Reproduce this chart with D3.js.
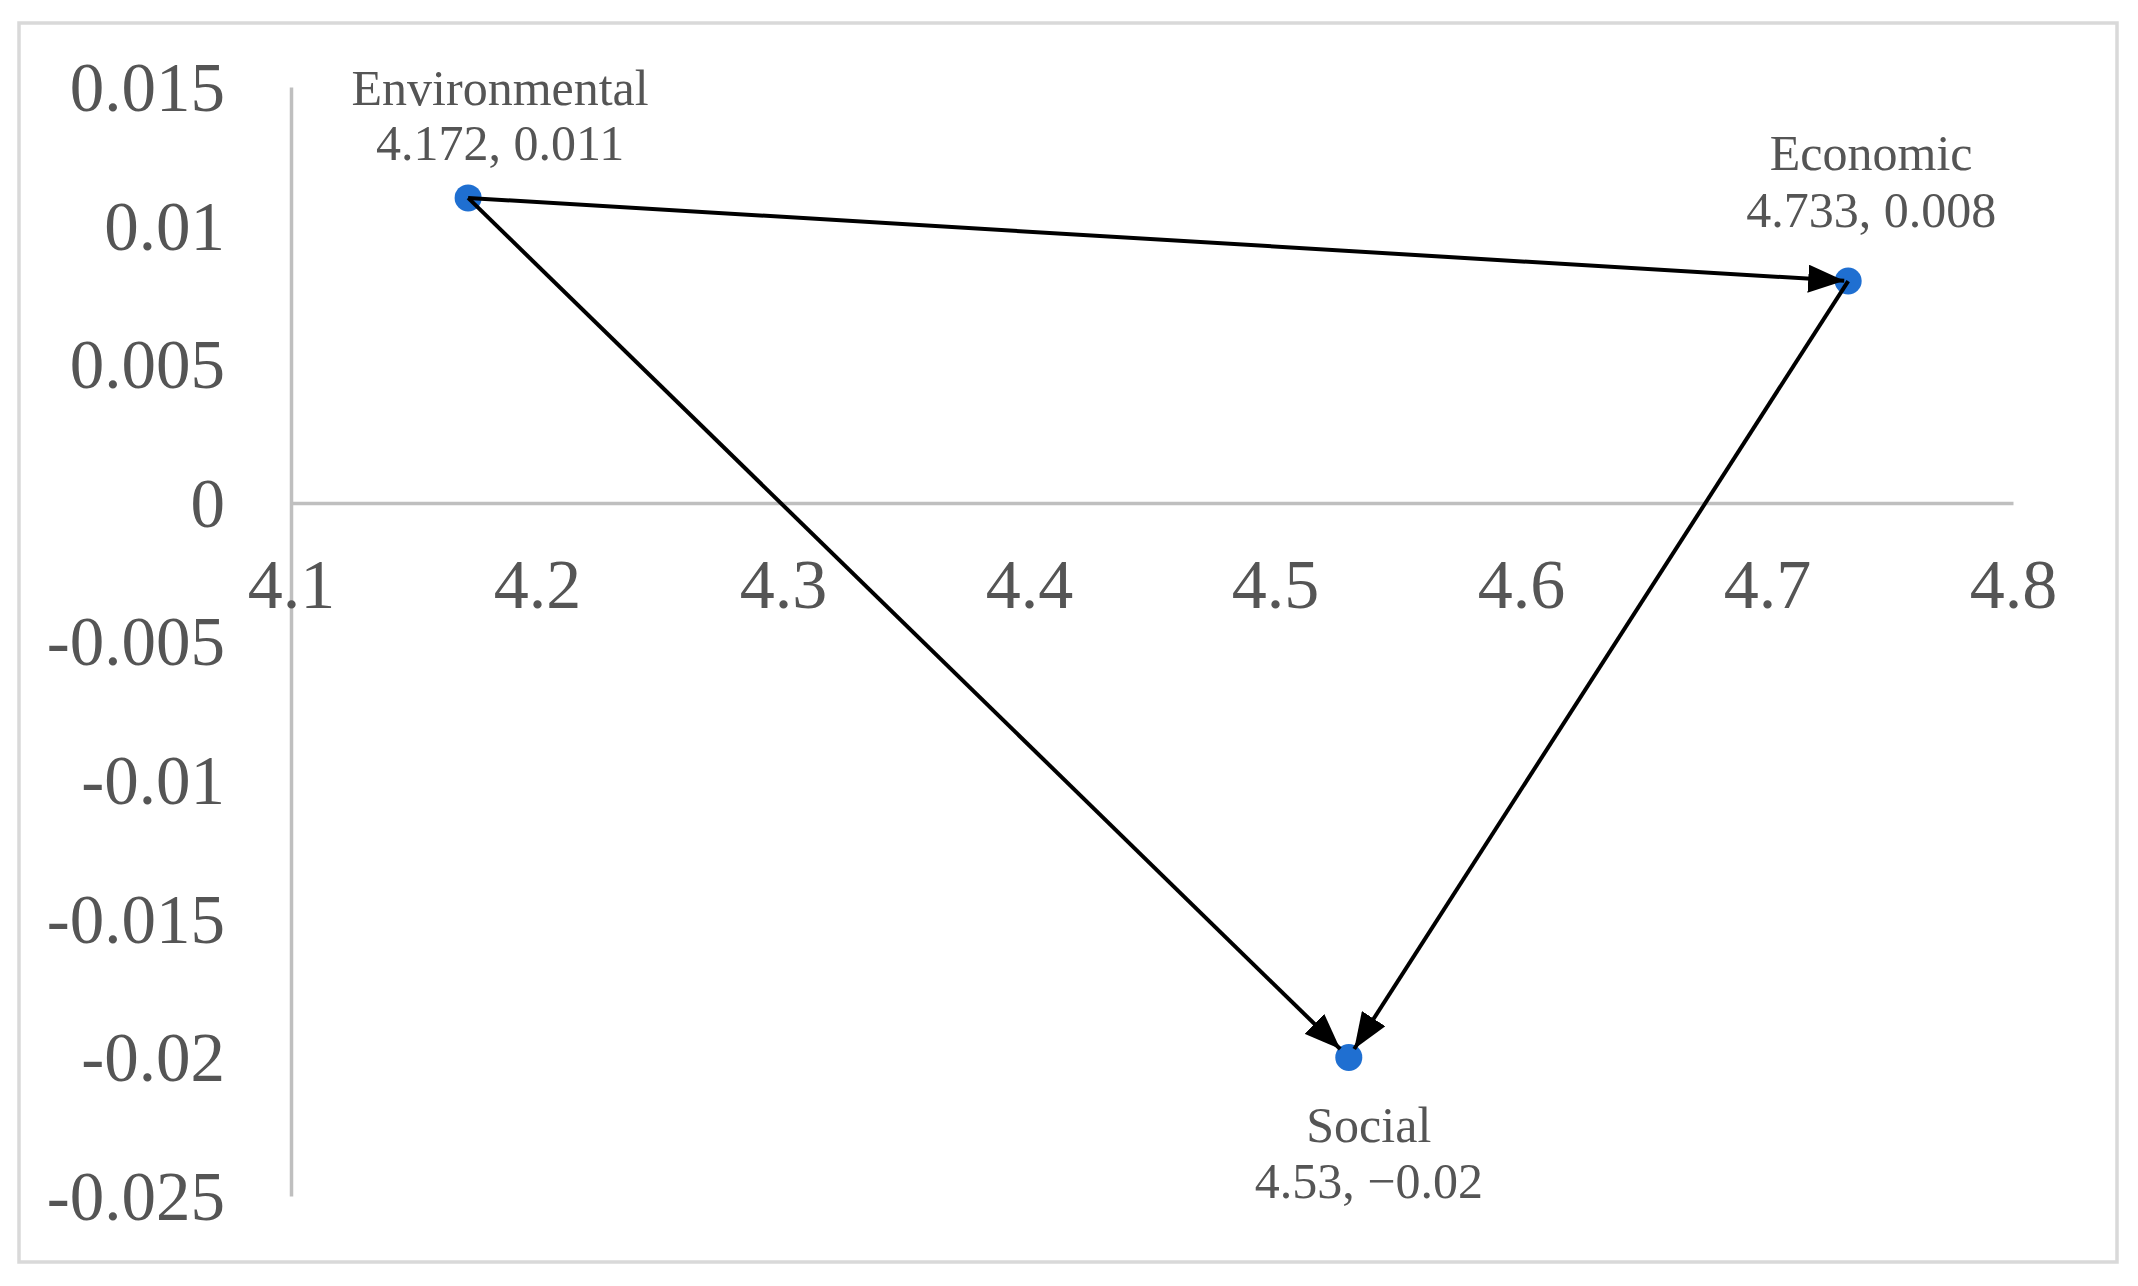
<!DOCTYPE html>
<html>
<head>
<meta charset="utf-8">
<script src="https://cdn.jsdelivr.net/npm/d3@7"></script>
<style>
  html, body { margin: 0; padding: 0; background: #ffffff; }
  svg { display: block; }
  text { font-family: "Liberation Serif", "DejaVu Serif", serif; }
</style>
</head>
<body>
<svg id="chart" width="2138" height="1286"></svg>
<script>
// ---- data ----
const names = ["Environmental", "Economic", "Social"];
const xValues = [4.172, 4.733, 4.53];
const yValues = [0.011, 0.008, -0.02];
const valueLabels = ["4.172, 0.011", "4.733, 0.008", "4.53, \u22120.02"];
const links = [[0, 1], [0, 2], [1, 2]];
const xTicks = [4.1, 4.2, 4.3, 4.4, 4.5, 4.6, 4.7, 4.8];
const xTickLabels = ["4.1", "4.2", "4.3", "4.4", "4.5", "4.6", "4.7", "4.8"];
const yTicks = [0.015, 0.01, 0.005, 0, -0.005, -0.01, -0.015, -0.02, -0.025];
const yTickLabels = ["0.015", "0.01", "0.005", "0", "-0.005", "-0.01", "-0.015", "-0.02", "-0.025"];

// ---- layout ----
const svg = d3.select("#chart");
const textColor = "#555555";
const axisColor = "#bfbfbf";
const dotColor = "#1f6fd1";

svg.append("rect")
  .attr("x", 19).attr("y", 23).attr("width", 2098).attr("height", 1239)
  .attr("fill", "#ffffff").attr("stroke", "#d9d9d9").attr("stroke-width", 3.5);

const x = d3.scaleLinear().domain([4.1, 4.8]).range([291, 2013]);
const y = d3.scaleLinear().domain([-0.025, 0.015]).range([1196, 87]);

// y axis
const yAxis = svg.append("g")
  .attr("transform", `translate(${x(4.1)},0)`)
  .call(d3.axisLeft(y).tickValues(yTicks).tickSize(0).tickSizeOuter(0).tickPadding(66)
    .tickFormat((d, i) => yTickLabels[i]));
yAxis.select(".domain").attr("stroke", axisColor).attr("stroke-width", 3.5);
yAxis.selectAll("text")
  .attr("fill", textColor).attr("font-size", 69)
  .attr("font-family", "Liberation Serif, serif")
  .attr("dy", "0.34em");

// x axis (at y = 0)
const xAxis = svg.append("g")
  .attr("transform", `translate(0,${y(0)})`)
  .call(d3.axisBottom(x).tickValues(xTicks).tickSize(0).tickSizeOuter(0)
    .tickFormat((d, i) => xTickLabels[i]));
xAxis.select(".domain").attr("stroke", axisColor).attr("stroke-width", 3.5);
xAxis.selectAll("text")
  .attr("fill", textColor).attr("font-size", 70)
  .attr("font-family", "Liberation Serif, serif")
  .attr("y", 105).attr("dy", 0);

// points
svg.append("g").selectAll("circle")
  .data(names)
  .join("circle")
  .attr("cx", (d, i) => x(xValues[i]))
  .attr("cy", (d, i) => y(yValues[i]))
  .attr("r", 13.5)
  .attr("fill", dotColor);

// arrow marker
svg.append("defs").append("marker")
  .attr("id", "arrow")
  .attr("markerUnits", "userSpaceOnUse")
  .attr("viewBox", "0 0 36 28")
  .attr("markerWidth", 36).attr("markerHeight", 28)
  .attr("refX", 36).attr("refY", 14)
  .attr("orient", "auto")
  .append("path")
  .attr("d", "M0,0 L36,14 L0,28 Z")
  .attr("fill", "#000000");

// arrows
const shorten = [4, 12, 10];
svg.append("g").selectAll("line")
  .data(links)
  .join("line")
  .each(function (l, k) {
    const x1 = x(xValues[l[0]]), y1 = y(yValues[l[0]]);
    const x2 = x(xValues[l[1]]), y2 = y(yValues[l[1]]);
    const len = Math.hypot(x2 - x1, y2 - y1);
    const s = shorten[k];
    d3.select(this)
      .attr("x1", x1).attr("y1", y1)
      .attr("x2", x2 - (x2 - x1) / len * s)
      .attr("y2", y2 - (y2 - y1) / len * s);
  })
  .attr("stroke", "#000000")
  .attr("stroke-width", 4)
  .attr("marker-end", "url(#arrow)");

// data labels
const labelOffsets = [
  { dx: 32, dy1: -93, dy2: -38 },
  { dx: 23, dy1: -111, dy2: -54 },
  { dx: 20, dy1: 85, dy2: 141 }
];
const lab = svg.append("g").selectAll("g")
  .data(names)
  .join("g")
  .attr("transform", (d, i) => `translate(${x(xValues[i]) + labelOffsets[i].dx},${y(yValues[i])})`);
lab.append("text")
  .attr("text-anchor", "middle")
  .attr("y", (d, i) => labelOffsets[i].dy1)
  .attr("font-size", 50).attr("fill", textColor)
  .text(d => d);
lab.append("text")
  .attr("text-anchor", "middle")
  .attr("y", (d, i) => labelOffsets[i].dy2)
  .attr("font-size", 50).attr("fill", textColor)
  .text((d, i) => valueLabels[i]);
</script>
</body>
</html>
